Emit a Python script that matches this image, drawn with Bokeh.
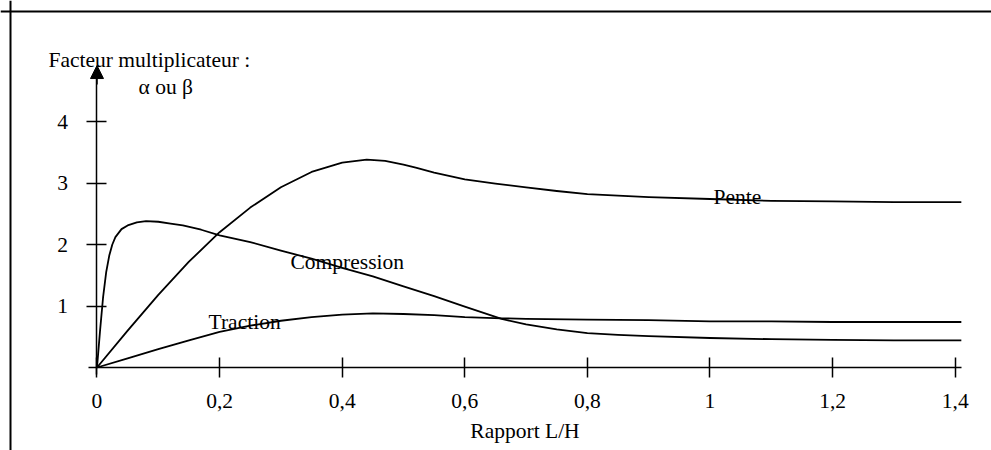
from bokeh.plotting import figure
from bokeh.models import LinearAxis, FixedTicker, Span, Arrow, NormalHead, Label, Range1d
from bokeh.embed import file_html
from bokeh.resources import INLINE

# ---- data ----
pente_x = [0, 0.05, 0.1, 0.15, 0.2, 0.25, 0.3, 0.35, 0.4, 0.44, 0.47, 0.5, 0.52, 0.55, 0.6, 0.65, 0.7, 0.75, 0.8, 0.9, 1.0, 1.1, 1.2, 1.3, 1.41]
pente_y = [0, 0.6, 1.18, 1.72, 2.2, 2.6, 2.93, 3.18, 3.33, 3.38, 3.36, 3.3, 3.25, 3.17, 3.06, 2.99, 2.93, 2.87, 2.82, 2.77, 2.74, 2.71, 2.70, 2.69, 2.69]

comp_x = [0, 0.005, 0.01, 0.015, 0.02, 0.025, 0.03, 0.04, 0.05, 0.065, 0.08, 0.1, 0.12, 0.14, 0.17, 0.2, 0.25, 0.3, 0.35, 0.4, 0.45, 0.5, 0.55, 0.6, 0.66, 0.7, 0.75, 0.8, 0.85, 0.9, 1.0, 1.1, 1.2, 1.3, 1.41]
comp_y = [0, 0.6, 1.15, 1.55, 1.82, 2.0, 2.12, 2.25, 2.31, 2.36, 2.38, 2.37, 2.34, 2.31, 2.24, 2.15, 2.04, 1.90, 1.77, 1.62, 1.48, 1.32, 1.16, 0.99, 0.79, 0.70, 0.62, 0.56, 0.53, 0.51, 0.48, 0.46, 0.45, 0.44, 0.44]

trac_x = [0, 0.05, 0.1, 0.15, 0.2, 0.25, 0.3, 0.35, 0.4, 0.45, 0.5, 0.55, 0.6, 0.66, 0.7, 0.8, 0.9, 1.0, 1.1, 1.2, 1.3, 1.41]
trac_y = [0, 0.15, 0.3, 0.44, 0.58, 0.68, 0.76, 0.82, 0.86, 0.88, 0.87, 0.85, 0.82, 0.80, 0.79, 0.78, 0.77, 0.75, 0.75, 0.74, 0.74, 0.74]

x_ticks = [0, 0.2, 0.4, 0.6, 0.8, 1.0, 1.2, 1.4]
x_tick_labels = ["0", "0,2", "0,4", "0,6", "0,8", "1", "1,2", "1,4"]
y_ticks = [1, 2, 3, 4]
y_tick_labels = ["1", "2", "3", "4"]

x_title = "Rapport L/H"
y_title_1 = "Facteur multiplicateur :"
y_title_2 = "\u03b1 ou \u03b2"
curve_names = ["Pente", "Compression", "Traction"]

FONT = "Liberation Serif"
FS = "21.5px"

p = figure(width=991, height=450,
           x_range=Range1d(-0.15742, 1.45922), y_range=Range1d(-1.3496, 5.9675),
           output_backend="svg", toolbar_location=None,
           x_axis_type=None, y_axis_type=None, min_border=0, title=None,
           outline_line_color=None, background_fill_color="white")

# frame lines of the scanned figure
p.add_layout(Span(location=5.789, dimension="width", line_color="black", line_width=2))
p.add_layout(Span(location=-0.1411, dimension="height", line_color="black", line_width=2))

def style_axis(ax):
    ax.axis_line_color = "black"
    ax.axis_line_width = 1.5
    ax.major_tick_line_color = "black"
    ax.major_tick_line_width = 1.5
    ax.major_tick_in = 10
    ax.major_tick_out = 10
    ax.minor_tick_line_color = None
    ax.major_label_text_font = FONT
    ax.major_label_text_font_size = FS
    ax.major_label_text_color = "black"

xaxis = LinearAxis(fixed_location=0, bounds=(-0.014, 1.41),
                   ticker=FixedTicker(ticks=x_ticks, minor_ticks=[]),
                   major_label_overrides=dict(zip(x_ticks, x_tick_labels)),
                   axis_label=x_title)
style_axis(xaxis)
xaxis.major_label_standoff = 17
xaxis.axis_label_text_font = FONT
xaxis.axis_label_text_font_size = FS
xaxis.axis_label_text_font_style = "normal"
xaxis.axis_label_text_color = "black"
xaxis.axis_label_standoff = 7
p.add_layout(xaxis, "below")

yaxis = LinearAxis(fixed_location=0, bounds=(-0.12, 4.8),
                   ticker=FixedTicker(ticks=y_ticks, minor_ticks=[]),
                   major_label_overrides=dict(zip(y_ticks, y_tick_labels)))
style_axis(yaxis)
yaxis.major_label_standoff = 19
yaxis.major_label_orientation = "horizontal"
p.add_layout(yaxis, "left")

p.add_layout(Arrow(end=NormalHead(size=13, fill_color="black", line_color="black"),
                   x_start=0, y_start=4.6, x_end=0, y_end=4.91,
                   line_color="black", line_width=1.5))

for xs, ys in [(pente_x, pente_y), (comp_x, comp_y), (trac_x, trac_y)]:
    p.line(xs, ys, line_color="black", line_width=1.8, line_join="round")

def lab(txt, x, y):
    p.add_layout(Label(x=x, y=y, text=txt, text_font=FONT, text_font_size=FS,
                       text_color="black", text_align="left", text_baseline="alphabetic"))

lab(y_title_1, -0.0791, 4.992)
lab(y_title_2, 0.0677, 4.553)
lab(curve_names[0], 1.0057, 2.77)
lab(curve_names[1], 0.3157, 1.712)
lab(curve_names[2], 0.182, 0.737)

open("out.html", "w").write(file_html(p, INLINE))
